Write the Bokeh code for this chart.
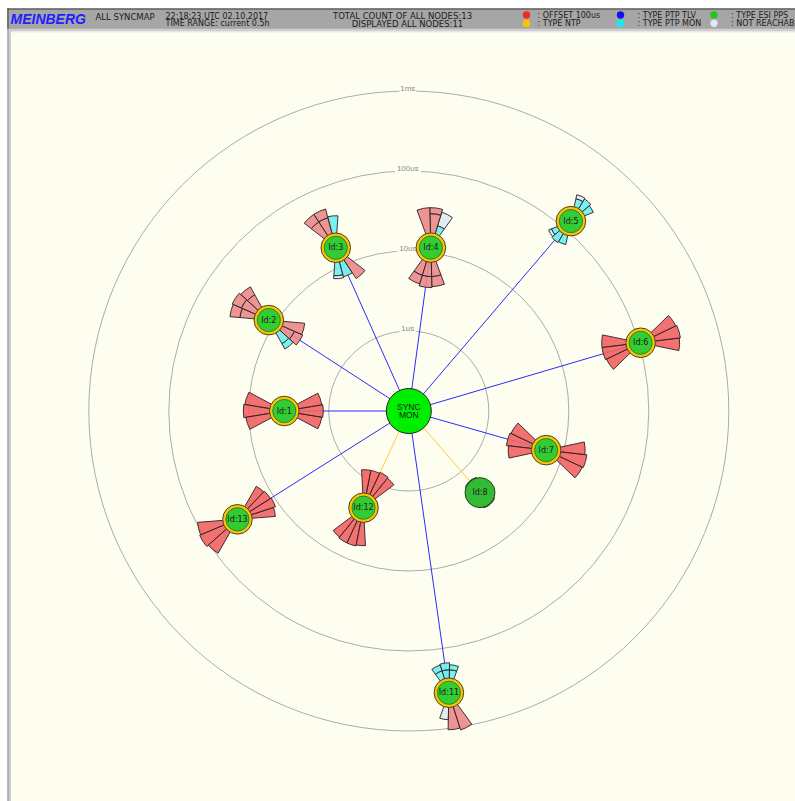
import math
from bokeh.plotting import figure
from bokeh.models import Range1d
from bokeh.embed import file_html
from bokeh.resources import INLINE
from bokeh.core.properties import value

# ---------------- data ----------------
ring_values_us = [1, 10, 100, 1000]
ring_labels = ["1us", "10us", "100us", "1ms"]

node_ids = ["Id:1", "Id:2", "Id:3", "Id:4", "Id:5", "Id:6", "Id:7", "Id:8", "Id:11", "Id:12", "Id:13"]
node_offset_us = [3.6, 12.2, 17.2, 11.5, 132, 105, 6.1, 2.26, 361, 2.16, 34.2]
node_angle_deg = [180, 147, 114.1, 82.3, 49.5, 16.4, -15.9, -48.9, -81.9, -115.1, -147.7]
node_type = ["PTP TLV", "PTP TLV", "PTP TLV", "PTP TLV", "PTP TLV", "PTP TLV", "PTP TLV",
             "NTP", "PTP TLV", "NTP", "PTP TLV"]
node_ring = [1, 1, 1, 1, 1, 1, 1, 0, 1, 1, 1]

# histogram segments around each node: node, side (out = away from SYNC MON), slot, kind, length
seg_node = (["Id:1"] * 6 +
            ["Id:2"] * 11 +
            ["Id:3"] * 9 +
            ["Id:4"] * 11 +
            ["Id:5"] * 8 +
            ["Id:6"] * 6 +
            ["Id:7"] * 6 +
            ["Id:8"] * 6 +
            ["Id:11"] * 9 +
            ["Id:12"] * 8 +
            ["Id:13"] * 7)
seg_side = (["out"] * 3 + ["in"] * 3 +
            ["out"] * 6 + ["in"] * 5 +
            ["out"] * 5 + ["in"] * 4 +
            ["out"] * 5 + ["in"] * 6 +
            ["out"] * 4 + ["in"] * 4 +
            ["out"] * 3 + ["in"] * 3 +
            ["out"] * 3 + ["in"] * 3 +
            ["out"] * 3 + ["in"] * 3 +
            ["out"] * 3 + ["in"] * 6 +
            ["out"] * 4 + ["in"] * 4 +
            ["out"] * 3 + ["in"] * 4)
seg_slot = ([0, 1, 2, 0, 1, 2] +
            [0, 0, 1, 1, 2, 2] + [0, 0, 1, 1, 2] +
            [0, 1, 1, 2, 2] + [0, 0, 1, 2] +
            [0, 0, 1, 1, 2] + [0, 0, 1, 1, 2, 2] +
            [0, 1, 2, 2] + [0, 0, 1, 2] +
            [0, 1, 2, 0, 1, 2] +
            [0, 1, 2, 0, 1, 2] +
            [0, 1, 2, 0, 1, 2] +
            [0, 1, 2] + [0, 0, 1, 1, 2, 2] +
            [0, 1, 2, 3, 0, 1, 2, 3] +
            [0, 1, 2, 0, 1, 2, 3])
seg_kind = (["off"] * 6 +
            ["pink"] * 6 + ["ptp", "ptp", "pink", "pink", "pink"] +
            ["ptp", "pink", "pink", "pink", "pink"] + ["ptp", "unr", "ptp", "pink"] +
            ["ptp", "unr", "pink", "pink", "pink"] + ["pink"] * 6 +
            ["ptp", "ptp", "ptp", "unr"] + ["ptp", "unr", "ptp", "ptp"] +
            ["off"] * 6 +
            ["off"] * 6 +
            ["esi"] * 6 +
            ["unr", "pink", "pink"] + ["ptp"] * 6 +
            ["off"] * 8 +
            ["off"] * 7)
# lengths are cumulative within a slot (outer edge minus hub radius)
seg_len = ([26, 27, 25, 24, 25, 24] +
           [15, 24, 16, 26, 15, 25] + [13, 19, 14, 23, 22] +
           [18, 17, 26, 17, 26] + [14, 17, 16, 23] +
           [9, 23, 20, 26, 26] + [15, 24, 15, 26, 15, 25] +
           [10, 12, 9, 13] + [7, 10, 11, 10] +
           [25, 26, 25] + [25, 25, 24] +
           [26, 27, 25] + [25, 26, 24] +
           [1.5, 1.5, 1.5] + [1.5, 1.5, 1.5] +
           [13, 23, 25] + [9, 14, 9, 16, 9, 15] +
           [24, 25, 25, 24, 24, 25, 24, 24] +
           [26, 27, 25, 24, 26, 25, 24])

# header texts
title_text = "ALL SYNCMAP"
time_text = ["22:18:23 UTC 02.10.2017", "TIME RANGE: current 0.5h"]
count_text = ["TOTAL COUNT OF ALL NODES:13", "DISPLAYED ALL NODES:11"]
legend_labels = [": OFFSET 100us", ": TYPE NTP", ": TYPE PTP TLV", ": TYPE PTP MON",
                 ": TYPE ESI PPS", ": NOT REACHABLE"]
legend_colors = ["#ee2a2a", "#f8c800", "#1010ee", "#10eeee", "#22c422", "#dfe8f4"]

# ---------------- styling ----------------
W, H = 795, 801
CREAM = "#fefef0"
DEC = 80.0          # px per decade
HUB = 14.0          # hub radius of a node
SPAN = 56.0         # angular span of one histogram fan, degrees
KIND_COLOR = {"off": "#f26262", "pink": "#ea8a8a", "ptp": "#6cf0f0",
              "unr": "#dfeaf5", "esi": "#2a6a2a"}
LINE_COLOR = {"PTP TLV": "#2a2aff", "NTP": "#ffcc33"}


def X(px):
    return px


def Y(py):
    return H - py


def radius_of(us):
    return DEC * (math.log10(us) + 1)


CX, CY = X(408.3), Y(410.5)

p = figure(width=W, height=H, x_range=Range1d(0, W), y_range=Range1d(0, H),
           output_backend="svg", toolbar_location=None, min_border=0,
           x_axis_location=None, y_axis_location=None,
           background_fill_color="#ffffff", border_fill_color="#ffffff")
p.grid.visible = False
p.outline_line_color = None

# frame and strips
p.quad(left=[7], right=[W], bottom=[0], top=[Y(8)], fill_color="#cfcfcf", line_color=None)
p.quad(left=[11.3], right=[W], bottom=[0], top=[Y(32)], fill_color=CREAM, line_color=None)
p.segment(x0=[11], y0=[0], x1=[11], y1=[Y(31.5)], line_color="#ffffff", line_width=1)
p.segment(x0=[11], y0=[Y(31.5)], x1=[W], y1=[Y(31.5)], line_color="#ffffff", line_width=1)
p.segment(x0=[7.5], y0=[0], x1=[7.5], y1=[Y(8)], line_color="#8a8a8a", line_width=1)

# rings
ring_r = [radius_of(v) for v in ring_values_us]
p.circle(x=[CX] * len(ring_r), y=[CY] * len(ring_r), radius=ring_r,
         fill_color=None, line_color="#ababab", line_width=1)
p.rect(x=[CX - 1] * len(ring_r), y=[CY + r + 2.5 for r in ring_r],
       width=[len(t) * 4.6 + 3 for t in ring_labels], height=[7] * len(ring_r),
       fill_color=CREAM, line_color=None)
p.text(x=[CX - 1] * len(ring_r), y=[CY + r + 2.5 for r in ring_r], text=ring_labels,
       text_align="center", text_baseline="middle", text_font_size="8px",
       text_color="#8c8c8c", text_font=value("Liberation Sans"))

# node positions
nx, ny = {}, {}
for nid, off, ang in zip(node_ids, node_offset_us, node_angle_deg):
    r = radius_of(off)
    nx[nid] = CX + r * math.cos(math.radians(ang))
    ny[nid] = CY + r * math.sin(math.radians(ang))
ang_of = dict(zip(node_ids, node_angle_deg))

# connection lines
p.segment(x0=[CX] * len(node_ids), y0=[CY] * len(node_ids),
          x1=[nx[n] for n in node_ids], y1=[ny[n] for n in node_ids],
          line_color=[LINE_COLOR[t] for t in node_type], line_width=1)

# histogram fans
nslots = {}
for n, s, sl in zip(seg_node, seg_side, seg_slot):
    nslots[(n, s)] = max(nslots.get((n, s), 0), sl + 1)
prev = {}
wx, wy, wi, wo, ws, we, wc = [], [], [], [], [], [], []
for n, s, sl, k, ln in zip(seg_node, seg_side, seg_slot, seg_kind, seg_len):
    theta = ang_of[n] + (0 if s == "out" else 180)
    ns = nslots[(n, s)]
    step = SPAN / ns
    a0 = theta - SPAN / 2 + sl * step
    inner = prev.get((n, s, sl), HUB - 4)
    outer = HUB + ln
    prev[(n, s, sl)] = outer
    wx.append(nx[n]); wy.append(ny[n])
    wi.append(inner); wo.append(outer)
    ws.append(math.radians(a0)); we.append(math.radians(a0 + step))
    wc.append(KIND_COLOR[k])
p.annular_wedge(x=wx, y=wy, inner_radius=wi, outer_radius=wo, start_angle=ws, end_angle=we,
                fill_color=wc, fill_alpha=0.9, line_color="#2a2020", line_width=0.9)

# node hubs
rx = [nx[n] for n, f in zip(node_ids, node_ring) if f]
ry = [ny[n] for n, f in zip(node_ids, node_ring) if f]
p.circle(x=rx, y=ry, radius=14.8, fill_color="#f7c600", line_color="#4a4220", line_width=1)
p.circle(x=rx, y=ry, radius=11.6, fill_color="#33cc33", line_color="#2c6a2c", line_width=0.8)
gx = [nx[n] for n, f in zip(node_ids, node_ring) if not f]
gy = [ny[n] for n, f in zip(node_ids, node_ring) if not f]
p.circle(x=gx, y=gy, radius=15, fill_color="#33bb33", line_color="#1d401d", line_width=1)
p.text(x=[nx[n] for n in node_ids], y=[ny[n] for n in node_ids], text=node_ids,
       text_align="center", text_baseline="middle", text_font_size="8px",
       text_color="#1a1a1a", text_font=value("DejaVu Sans"))

# sync monitor
p.circle(x=[CX], y=[CY], radius=22.5, fill_color="#00ee00", line_color="#222222", line_width=1)
p.text(x=[CX, CX], y=[CY + 4.5, CY - 3.8], text=["SYNC", "MON"], text_align="center",
       text_baseline="middle", text_font_size="8.5px", text_color="#1a1a1a",
       text_font=value("Liberation Sans"))

# header bar
p.quad(left=[7], right=[W], bottom=[Y(28.3)], top=[Y(8)], fill_color="#a6a6a6", line_color=None)
p.segment(x0=[7], y0=[Y(8.5)], x1=[W], y1=[Y(8.5)], line_color="#3c3c3c", line_width=1)
p.segment(x0=[7.5], y0=[Y(28.3)], x1=[7.5], y1=[Y(8)], line_color="#3c3c3c", line_width=1)
p.text(x=[X(10)], y=[Y(18.3)], text=["MEINBERG"], text_align="left", text_baseline="middle",
       text_font_size="14px", text_font_style="bold italic", text_color="#1f1fff",
       text_font=value("Liberation Sans"))
HF = value("DejaVu Sans")
p.text(x=[X(95)], y=[Y(16)], text=[title_text], text_align="left", text_baseline="middle",
       text_font_size="8.5px", text_color="#202020", text_font=HF)
p.text(x=[X(165), X(165)], y=[Y(15.5), Y(23)], text=time_text, text_align="left",
       text_baseline="middle", text_font_size="8px", text_color="#202020", text_font=HF)
p.text(x=[X(402), X(407)], y=[Y(15), Y(23)], text=count_text, text_align="center",
       text_baseline="middle", text_font_size="8.5px", text_color="#202020", text_font=HF)
lx_dot = [X(526), X(526), X(620), X(620), X(713.5), X(713.5)]
ly = [Y(14.5), Y(22.7)] * 3
p.circle(x=lx_dot, y=ly, radius=3.7, fill_color=legend_colors, line_color=None)
lx_txt = [X(537), X(537), X(637), X(637), X(730.5), X(730.5)]
p.text(x=lx_txt, y=ly, text=legend_labels, text_align="left", text_baseline="middle",
       text_font_size="8px", text_color="#202020", text_font=HF)

open("out.html", "w").write(file_html(p, INLINE))
